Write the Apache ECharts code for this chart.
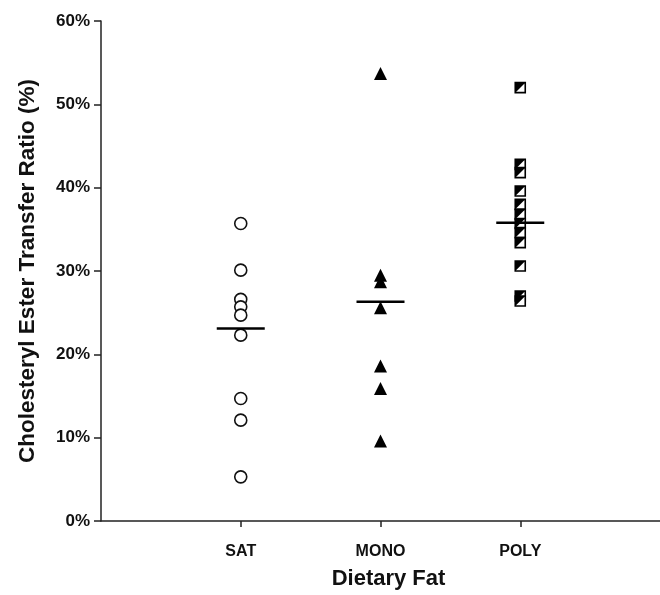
<!DOCTYPE html>
<html>
<head>
<meta charset="utf-8">
<script src="https://cdn.jsdelivr.net/npm/echarts@6/dist/echarts.min.js"></script>
<style>html,body{margin:0;padding:0;background:#fff}#c{width:660px;height:595px}</style>
</head>
<body>
<div id="c"></div>
<script>
var categories = ['SAT', 'MONO', 'POLY'];
var satValues = [35.7, 30.1, 26.6, 25.7, 24.7, 22.3, 14.7, 12.1, 5.3];
var monoValues = [53.7, 29.5, 28.7, 25.6, 18.6, 15.9, 9.6];
var polyValues = [52.0, 42.8, 41.8, 39.6, 38.0, 36.8, 35.7, 34.6, 33.4, 30.6, 27.0, 26.4];
var meanValues = [23.1, 26.3, 35.8];
var yTicks = [0, 10, 20, 30, 40, 50, 60];

function pts(catIndex, vals) {
  return vals.map(function (v) { return [catIndex + 1, v / 100]; });
}
var FONT = 'Liberation Sans, Arial, Helvetica, sans-serif';

var chart = echarts.init(document.getElementById('c'), null, {renderer: 'canvas'});
chart.setOption({
  animation: false,
  backgroundColor: '#fff',
  grid: {left: 101, right: 0, top: 21, bottom: 73},
  xAxis: {
    type: 'value', min: 0, max: 4, interval: 1,
    name: 'Dietary Fat', nameLocation: 'middle', nameGap: 47,
    nameTextStyle: {fontFamily: FONT, fontWeight: 'bold', fontSize: 22, color: '#111', padding: [0, 0, 0, 16]},
    axisLine: {lineStyle: {color: '#222', width: 1.5}},
    axisTick: {show: true, length: 6, inside: false, customValues: [1, 2, 3], lineStyle: {color: '#222', width: 1.5}},
    axisLabel: {
      customValues: [1, 2, 3], margin: 23,
      fontFamily: FONT, fontWeight: 'bold', fontSize: 16, color: '#111',
      formatter: function (v) { return categories[v - 1] || ''; }
    },
    splitLine: {show: false}
  },
  yAxis: {
    type: 'value', min: 0, max: 0.6, interval: 0.1,
    name: 'Cholesteryl Ester Transfer Ratio (%)', nameLocation: 'middle', nameGap: 62,
    nameTextStyle: {fontFamily: FONT, fontWeight: 'bold', fontSize: 22.5, color: '#111'},
    axisLine: {show: true, lineStyle: {color: '#222', width: 1.5}},
    axisTick: {show: true, length: 7, lineStyle: {color: '#222', width: 1.5}},
    axisLabel: {
      margin: 11, fontFamily: FONT, fontWeight: 'bold', fontSize: 17, color: '#111',
      formatter: function (v) { return Math.round(v * 100) + '%'; }
    },
    splitLine: {show: false}
  },
  series: [
    {
      type: 'scatter', name: 'SAT', data: pts(0, satValues),
      symbol: 'circle', symbolSize: 12,
      itemStyle: {color: '#fff', borderColor: '#111', borderWidth: 1.6, opacity: 1}
    },
    {
      type: 'scatter', name: 'MONO', data: pts(1, monoValues),
      symbol: 'triangle', symbolSize: 13,
      itemStyle: {color: '#000', opacity: 1}
    },
    {
      type: 'scatter', name: 'POLY', data: pts(2, polyValues),
      symbol: 'rect', symbolSize: 10,
      itemStyle: {color: '#fff', borderColor: '#000', borderWidth: 1.6, opacity: 1}
    },
    {
      type: 'scatter', name: 'POLYfill', data: pts(2, polyValues),
      symbol: 'path://M0,0 L10,0 L0,10 Z', symbolSize: 10,
      itemStyle: {color: '#000', opacity: 1}
    },
    {
      type: 'scatter', name: 'Mean', z: 5,
      data: meanValues.map(function (v, i) { return [i + 1, v / 100]; }),
      symbol: 'rect', symbolSize: [48, 2.5],
      itemStyle: {color: '#000', opacity: 1}
    }
  ]
});
</script>
</body>
</html>
